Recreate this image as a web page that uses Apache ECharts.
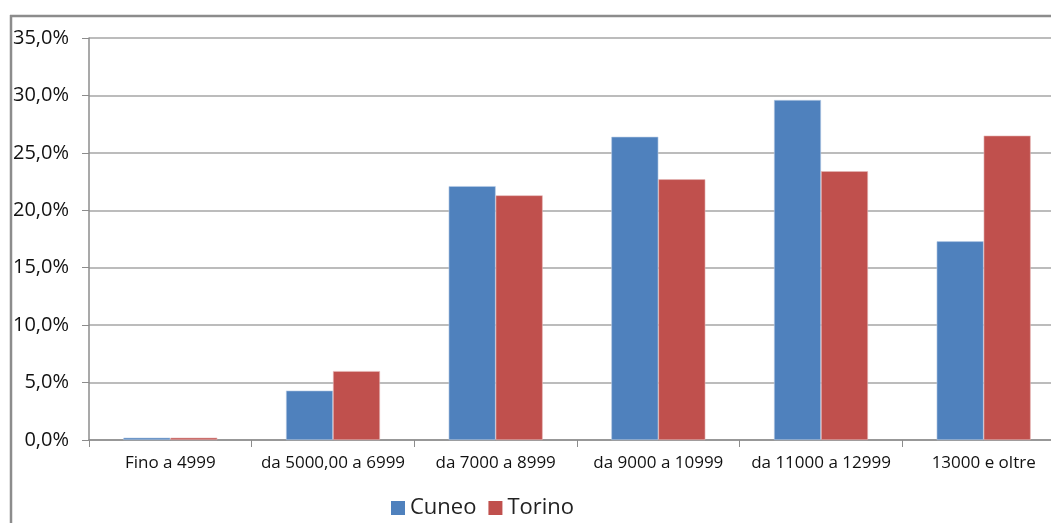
<!DOCTYPE html>
<html>
<head>
<meta charset="utf-8">
<script src="https://cdn.jsdelivr.net/npm/echarts@6/dist/echarts.min.js"></script>
<style>
html, body { margin: 0; padding: 0; background: #fff; }
#main { width: 1051px; height: 523px; }
</style>
</head>
<body>
<div id="main"></div>
<script>
// fasce di reddito
var categorie = ['Fino a 4999', 'da 5000,00 a 6999', 'da 7000 a 8999', 'da 9000 a 10999', 'da 11000 a 12999', '13000 e oltre'];
// percentuali per provincia
var cuneo = [0.2, 4.3, 22.1, 26.4, 29.6, 17.3];
var torino = [0.2, 6.0, 21.3, 22.7, 23.4, 26.5];
var colori = ['#4f81bd', '#c0504d'];

var Chart = echarts.init(document.getElementById('main'));
Chart.setOption({
    animation: false,
    textStyle: { fontFamily: 'Open Sans' },
    //cornice grigia (sinistra e sopra)
    graphic: [
        { type: 'line', shape: { x1: 11, y1: 15, x2: 11, y2: 523 }, style: { stroke: '#8c8c8c', lineWidth: 2.5 } },
        { type: 'line', shape: { x1: 10, y1: 16, x2: 1051, y2: 16 }, style: { stroke: '#8c8c8c', lineWidth: 2.5 } }
    ],
    legend: {
        data: ['Cuneo', 'Torino'],
        bottom: -1,
        left: 386,
        itemWidth: 14,
        itemHeight: 14,
        itemGap: 12,
        icon: 'rect',
        itemStyle: { borderWidth: 0 },
        textStyle: { fontSize: 22, color: '#222' }
    },
    grid: {
        left: 89,
        width: 976,
        top: 38,
        bottom: 83,
        outerBoundsMode: 'none'
    },
    xAxis: {
        type: 'category',
        data: categorie,
        axisLine: { lineStyle: { color: '#8c8c8c', width: 1.5 } },
        axisTick: { show: true, length: 7, lineStyle: { color: '#8c8c8c' } },
        axisLabel: { interval: 0, fontSize: 17, color: '#111', margin: 15 }
    },
    yAxis: {
        type: 'value',
        min: 0,
        max: 35,
        interval: 5,
        axisLine: { show: true, lineStyle: { color: '#8c8c8c', width: 1.5 } },
        axisTick: { show: true, length: 7, lineStyle: { color: '#8c8c8c' } },
        splitLine: { lineStyle: { color: '#a6a6a6', width: 1.5 } },
        axisLabel: {
            fontSize: 20,
            color: '#111',
            margin: 20,
            formatter: function (v) { return v.toFixed(1).replace('.', ',') + '%'; }
        }
    },
    series: [
        {
            name: 'Cuneo',
            type: 'bar',
            data: cuneo,
            barWidth: 47,
            barGap: '0%',
            itemStyle: { color: colori[0], borderColor: '#b9cde5', borderWidth: 0.6 }
        },
        {
            name: 'Torino',
            type: 'bar',
            data: torino,
            barWidth: 47,
            barGap: '0%',
            itemStyle: { color: colori[1], borderColor: '#e6b9b8', borderWidth: 0.6 }
        }
    ]
});
</script>
</body>
</html>
